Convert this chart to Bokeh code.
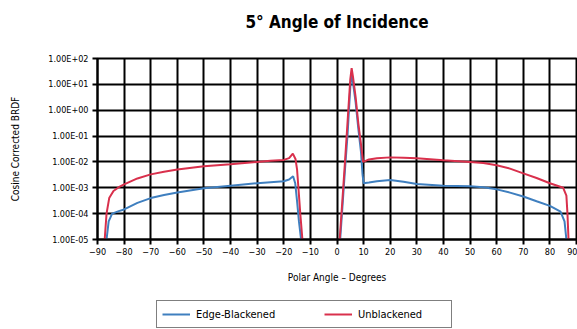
from bokeh.plotting import figure
from bokeh.layouts import column
from bokeh.models import FixedTicker, CustomJSTickFormatter, Legend, LegendItem, Title
from bokeh.embed import file_html
from bokeh.resources import INLINE

FONT = "DejaVu Sans Condensed"

# Polar angle (degrees) and cosine-corrected BRDF
nan = float("nan")

blue_x = [-86.6, -85.8, -84.5, -82, -80, -75, -70, -65, -60, -50, -40, -30, -25, -20, -18, -16.5,
          -15.7, -15.0, -14.3, -13.5,
          nan,
          1.2, 2, 3, 4, 5, 5.5, 6, 7, 8, 9, 9.6, 10, 12, 15, 20, 25, 30, 40, 50, 55, 60, 65, 70,
          75, 80, 84, 85.5, 86.2]
blue_y = [1e-5, 5e-5, 1.0e-4, 1.25e-4, 1.45e-4, 2.6e-4, 4.0e-4, 5.3e-4, 6.6e-4, 9.5e-4, 1.2e-3,
          1.5e-3, 1.65e-3, 1.8e-3, 2.1e-3, 2.8e-3,
          1.5e-3, 3e-4, 5e-5, 1e-5,
          nan,
          1e-5, 1.6e-4, 5e-3, 0.13, 8.0, 27.0, 12.0, 2.0, 0.2, 0.025, 3.2e-3, 1.5e-3, 1.6e-3,
          1.8e-3, 2.0e-3, 1.7e-3, 1.4e-3, 1.2e-3, 1.15e-3, 1.05e-3, 8.7e-4, 6.5e-4, 4.6e-4,
          3.0e-4, 2.0e-4, 1.2e-4, 5e-5, 1e-5]

red_x = [-87.3, -86.6, -85.6, -84, -82, -80, -75, -70, -65, -60, -50, -40, -30, -25, -20, -18,
         -16.6, -15.6, -15.0, -14.5, -13.8, -13.0,
         nan,
         1.0, 2, 3, 4, 5, 5.5, 6, 7, 8, 9, 9.8, 10.3, 12, 15, 20, 25, 30, 40, 50, 55, 60, 65, 70,
         75, 80, 85, 86.2, 86.6, 87.0]
red_y = [1e-5, 1e-4, 4e-4, 7.5e-4, 1.05e-3, 1.35e-3, 2.3e-3, 3.3e-3, 4.2e-3, 5.1e-3, 6.8e-3,
         8.2e-3, 1.0e-2, 1.1e-2, 1.2e-2, 1.4e-2,
         2.1e-2, 1.3e-2, 5e-3, 1e-3, 1e-4, 1e-5,
         nan,
         1e-5, 3e-4, 1e-2, 0.4, 16.0, 42.0, 20.0, 3.2, 0.32, 0.05, 1.0e-2, 1.05e-2, 1.25e-2,
         1.4e-2, 1.5e-2, 1.45e-2, 1.4e-2, 1.15e-2, 1.0e-2, 9.0e-3, 7.5e-3, 5.5e-3, 3.6e-3,
         2.4e-3, 1.5e-3, 1.0e-3, 5e-4, 1e-4, 1e-5]

x_ticks = list(range(-90, 91, 10))
y_ticks = [1e-5, 1e-4, 1e-3, 1e-2, 1e-1, 1e0, 1e1, 1e2]

series_names = ["Edge-Blackened", "Unblackened"]
series_colors = ["#3f7fbf", "#d9304c"]

p = figure(width=577, height=298, output_backend="svg", toolbar_location=None,
           x_range=(-90, 90), y_range=(1e-5, 1e2), y_axis_type="log",
           min_border_left=97, min_border_right=1, min_border_top=58, min_border_bottom=59,
           background_fill_color="white", border_fill_color="white")

# main title; a blank spacer title added below sits between it and the frame
p.title.text = "5° Angle of Incidence"
p.title.align = "center"
p.title.text_font = FONT
p.title.text_font_size = "17px"
p.title.text_font_style = "bold"
p.title.text_color = "black"
p.title.standoff = 0
p.add_layout(Title(text="\u00a0", text_font=FONT, text_font_size="10px", standoff=14), "above")

p.outline_line_color = "black"
p.outline_line_width = 2

p.xaxis.ticker = FixedTicker(ticks=x_ticks)
p.yaxis.ticker = FixedTicker(ticks=y_ticks)
p.yaxis.formatter = CustomJSTickFormatter(code="""
const e = Math.round(Math.log10(tick));
const a = Math.abs(e);
return "1.00E" + (e < 0 ? "-" : "+") + (a < 10 ? "0" : "") + a;
""")

for ax in (p.xaxis, p.yaxis):
    ax.axis_line_color = "black"
    ax.axis_line_width = 2
    ax.major_tick_line_color = "black"
    ax.major_tick_line_width = 2
    ax.major_tick_out = 5
    ax.major_tick_in = 0
    ax.minor_tick_line_color = None
    ax.major_label_text_font = FONT
    ax.major_label_text_font_size = "9px"
    ax.major_label_text_color = "black"
    ax.axis_label_text_font = FONT
    ax.axis_label_text_font_style = "normal"
    ax.axis_label_text_color = "black"

p.xaxis.major_label_standoff = 3
p.yaxis.major_label_standoff = 4
p.xaxis.axis_label = "Polar Angle – Degrees"
p.xaxis.axis_label_text_font_size = "10px"
p.xaxis.axis_label_standoff = 14
p.yaxis.axis_label = "Cosine Corrected BRDF"
p.yaxis.axis_label_text_font_size = "10px"
p.yaxis.axis_label_standoff = 24

for g in (p.xgrid, p.ygrid):
    g.grid_line_color = "black"
    g.grid_line_width = 2
    g.grid_line_alpha = 1.0
p.ygrid.minor_grid_line_color = None

r_blue = p.line(blue_x, blue_y, line_color=series_colors[0], line_width=2)
r_red = p.line(red_x, red_y, line_color=series_colors[1], line_width=2)

# legend strip below the chart (its view range excludes the data, so only the legend shows)
lg = figure(width=577, height=31, output_backend="svg", toolbar_location=None,
            x_range=(1000, 1001), y_range=(0, 1), x_axis_location=None, y_axis_location=None,
            min_border_left=0, min_border_right=0, min_border_top=0, min_border_bottom=0,
            outline_line_color=None, background_fill_color="white", border_fill_color="white")
lg.xgrid.visible = False
lg.ygrid.visible = False
lb = lg.line(blue_x, blue_y, line_color=series_colors[0], line_width=2)
lr = lg.line(red_x, red_y, line_color=series_colors[1], line_width=2)

legend = Legend(items=[LegendItem(label=series_names[0], renderers=[lb]),
                       LegendItem(label=series_names[1], renderers=[lr])],
                location=(59, 1), orientation="horizontal")
legend.label_text_font = FONT
legend.label_text_font_size = "11px"
legend.label_text_color = "black"
legend.border_line_color = "black"
legend.border_line_width = 1.5
legend.background_fill_alpha = 1.0
legend.padding = 5
legend.margin = 0
legend.spacing = 40
legend.glyph_width = 28
legend.glyph_height = 16
legend.label_standoff = 6
legend.label_height = 16
legend.label_width = 88
lg.add_layout(legend, "center")

open("out.html", "w").write(file_html(column(p, lg, spacing=0), INLINE))
